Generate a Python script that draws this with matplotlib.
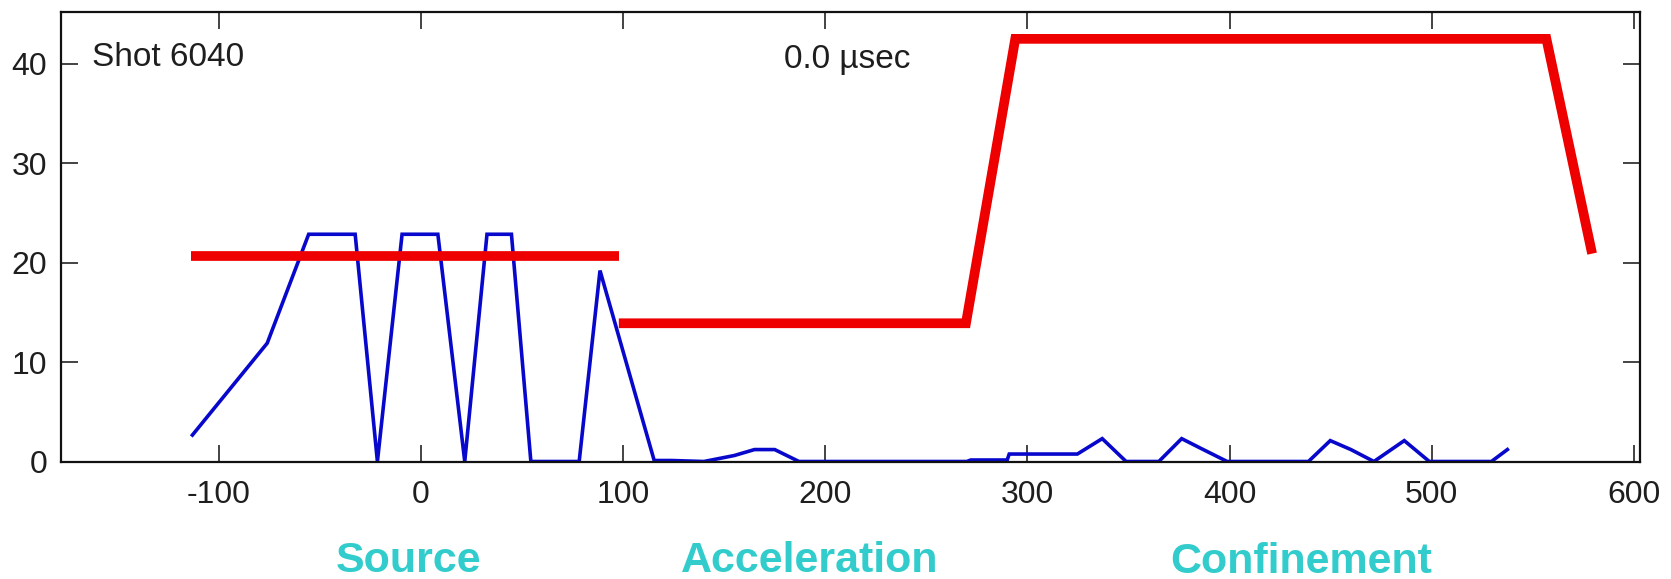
import matplotlib
matplotlib.use("Agg")
import matplotlib.pyplot as plt
import numpy as np

# ---- data ----
blue_x = [-113, -76, -55.5, -32.5, -21.5, -9.3, 8.4, 21.7, 32.7, 44.8, 54.4, 78.3, 88.6, 115.4, 124,
          140, 155, 165, 175, 187, 270, 272, 290, 291, 324.7, 337, 348.8, 365, 376.3, 386, 398.8,
          439, 449.8, 460, 471.4, 486.4, 498.8, 529.5, 537.4]
blue_y = [2.66, 11.9, 22.85, 22.85, 0, 22.85, 22.85, 0, 22.85, 22.85, 0, 0, 19.2, 0.1, 0.1,
          0, 0.6, 1.2, 1.2, 0, 0, 0.15, 0.15, 0.75, 0.75, 2.3, 0, 0, 2.3, 1.3, 0,
          0, 2.1, 1.2, 0, 2.1, 0, 0, 1.2]

red1_x = [-113.6, 97.8]
red1_y = [20.7, 20.7]
red2_x = [97.9, 269.6, 294, 556.7, 579.3]
red2_y = [13.9, 13.9, 42.5, 42.5, 20.9]

x_ticks = [-100, 0, 100, 200, 300, 400, 500, 600]
y_ticks = [0, 10, 20, 30, 40]
phase_labels = ["Source", "Acceleration", "Confinement"]
shot_label = "Shot 6040"
time_label = "0.0 \u00b5sec"

W, H = 1671, 579
fig = plt.figure(figsize=(W / 100, H / 100), dpi=100)
plt.rcParams['font.family'] = ['Liberation Sans', 'DejaVu Sans']

ax_l, ax_r, ax_t, ax_b = 61, 1640, 12, 461.5
ax = fig.add_axes([ax_l / W, 1 - ax_b / H, (ax_r - ax_l) / W, (ax_b - ax_t) / H])

ax.plot(blue_x, blue_y, color='#0808cc', lw=2.6, solid_joinstyle='miter', zorder=2)
ax.plot(red1_x, red1_y, color='#ee0000', lw=7.0, solid_capstyle='butt', zorder=3)
ax.plot(red2_x, red2_y, color='#ee0000', lw=7.0, solid_capstyle='butt', solid_joinstyle='miter', zorder=3)

ax.set_xlim(-178, 603)
ax.set_ylim(0, 45.2)
ax.set_xticks(x_ticks)
ax.set_yticks(y_ticks)
ax.set_xticklabels([str(v) for v in x_ticks])
ax.tick_params(direction='in', length=12, width=1.1, top=True, right=True,
               labelsize=23, labelcolor='#1e1e1e', color='#111111')
ax.tick_params(axis='x', pad=13)
ax.tick_params(axis='y', pad=10)
for s in ax.spines.values():
    s.set_linewidth(1.6)
    s.set_color('#111111')

fig.text(92 / W, 1 - 65.7 / H, shot_label, fontsize=24, color='#1e1e1e', va='baseline', ha='left')
fig.text(783.5 / W, 1 - 68 / H, time_label, fontsize=24, color='#1e1e1e', va='baseline', ha='left')

phase_x = [409, 810, 1301]
phase_base = [572, 572, 573]
for lab, px, py in zip(phase_labels, phase_x, phase_base):
    fig.text(px / W, 1 - py / H, lab, fontsize=31, fontweight='bold', color='#33cccc',
             ha='center', va='baseline')

fig.savefig('out.png', dpi=100, facecolor='white')
